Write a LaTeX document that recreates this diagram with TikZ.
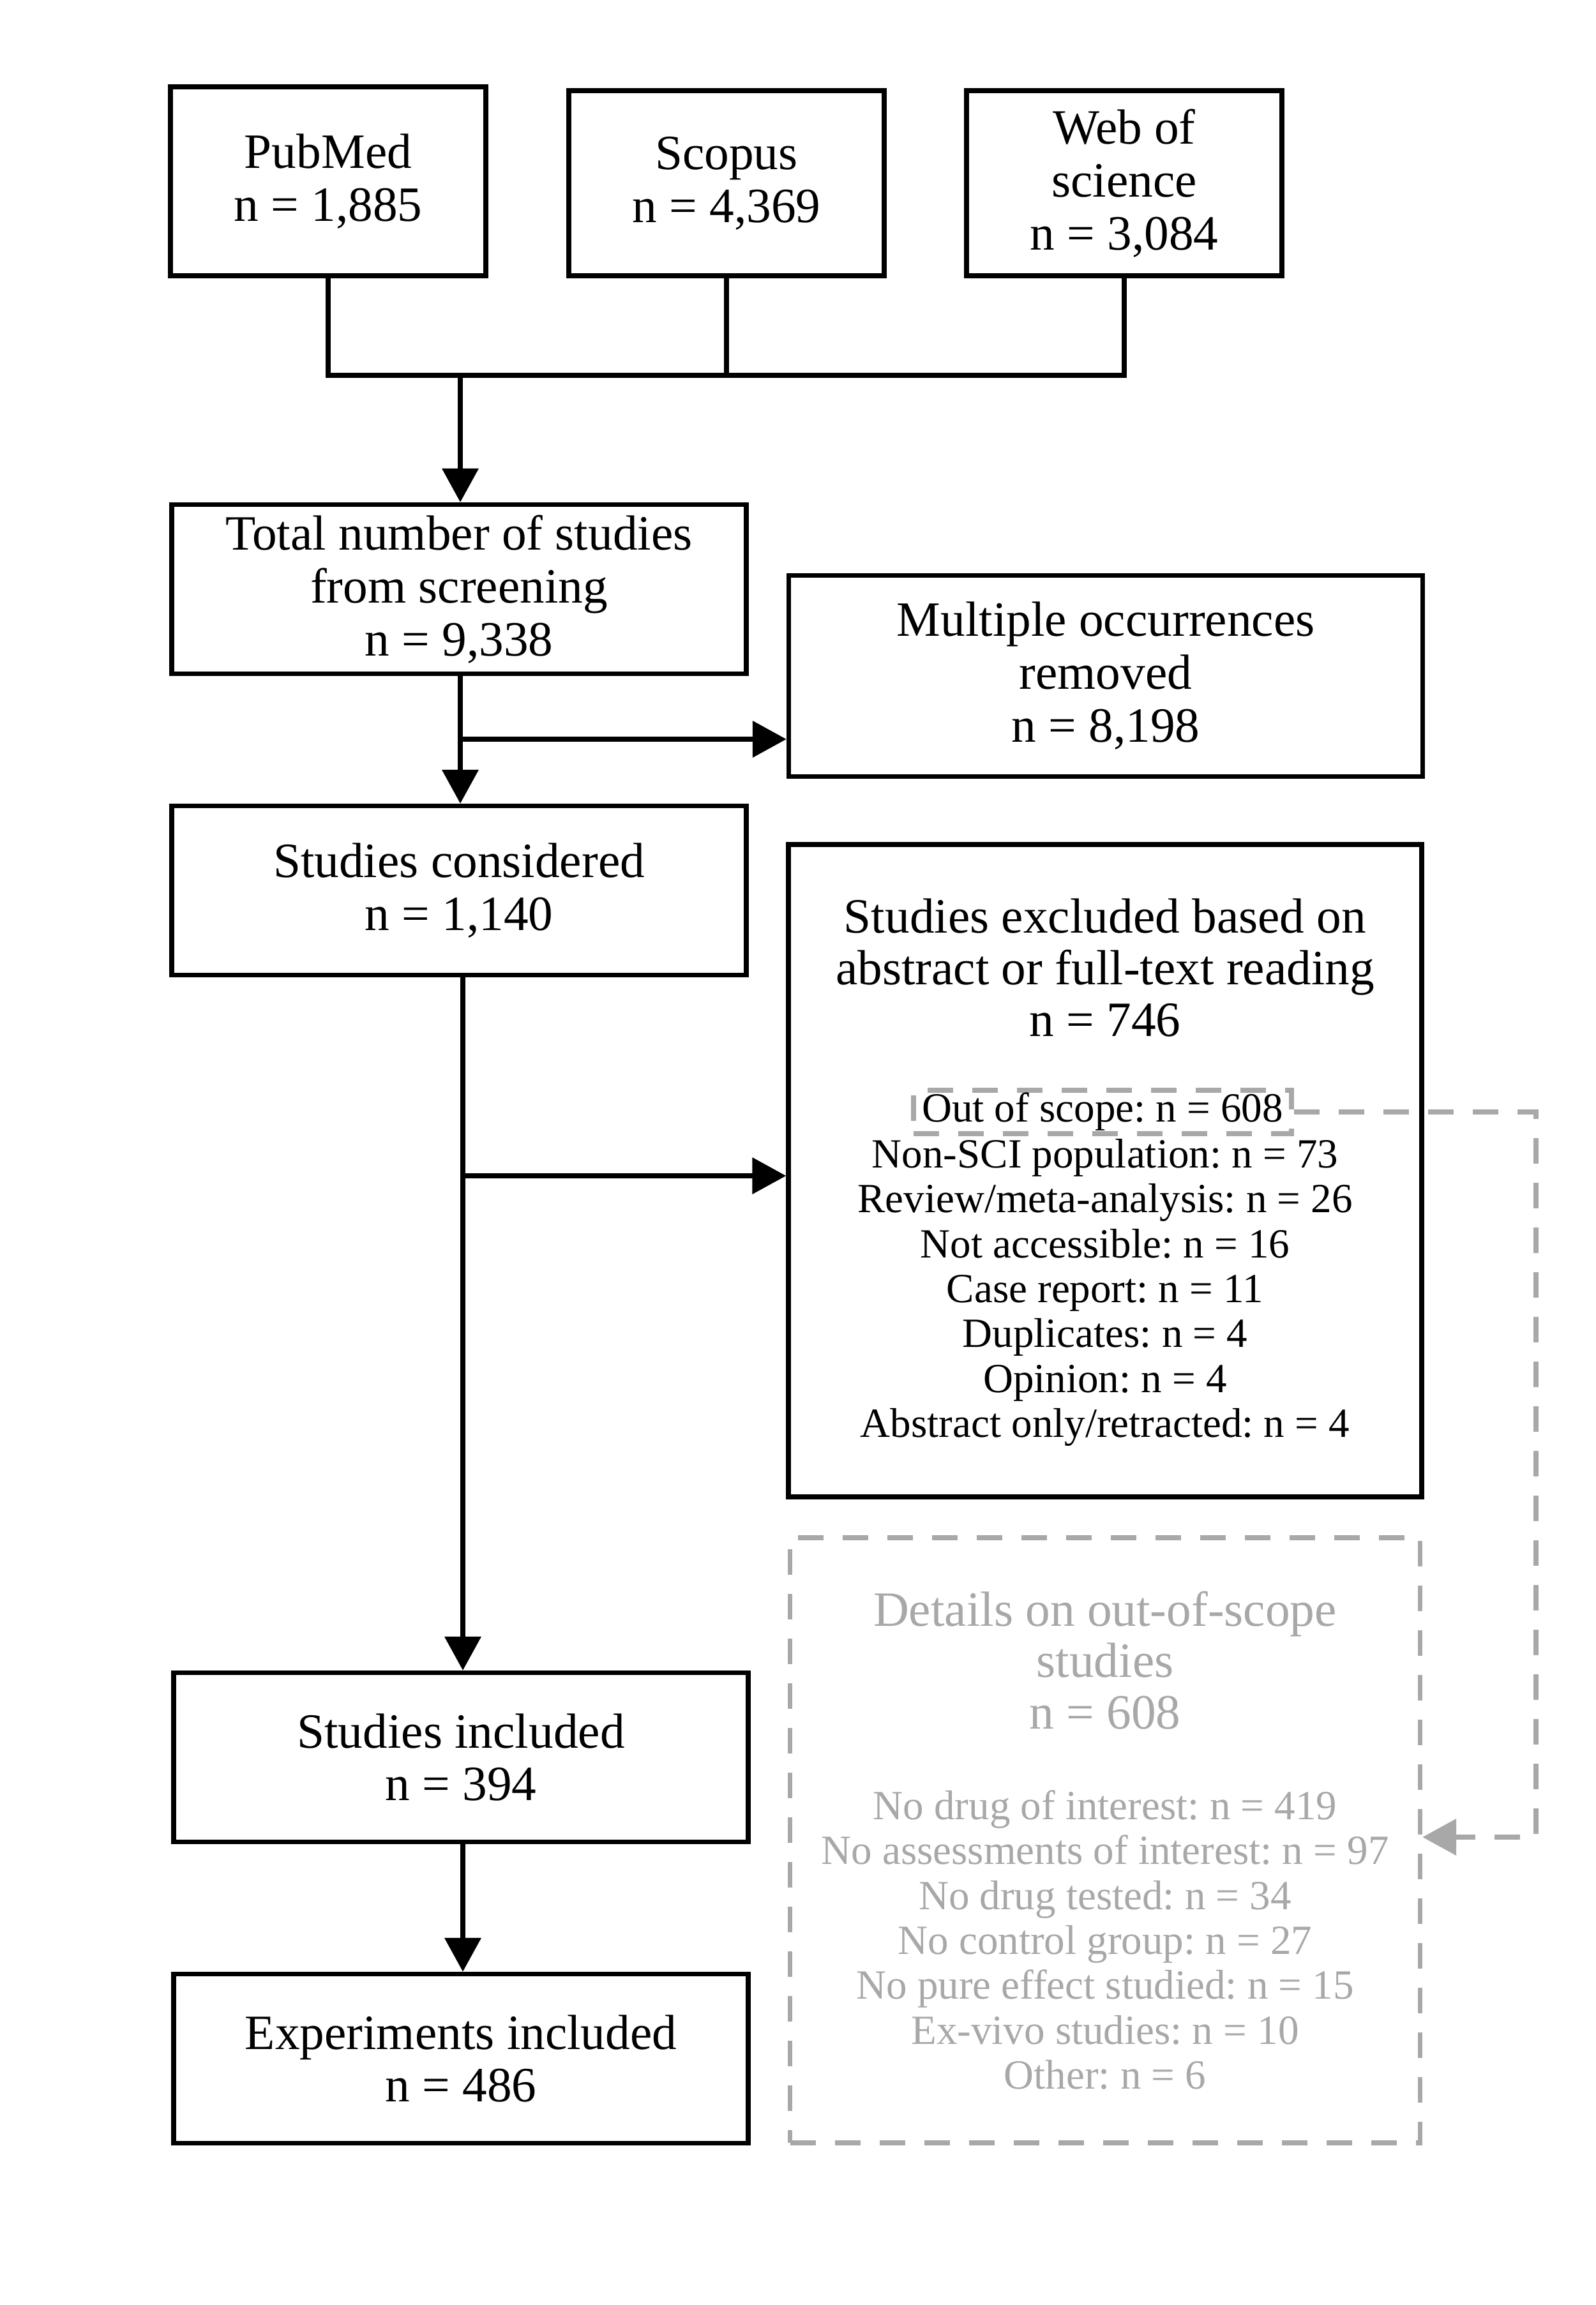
\documentclass[tikz,border=0pt]{standalone}
\usepackage{fontspec}
\setmainfont{Liberation Serif}
\usepackage{xcolor}
\usepackage{tikz}
\usetikzlibrary{arrows.meta, positioning, calc}
\frenchspacing
\definecolor{framegray}{RGB}{168, 168, 168}
\tikzstyle{box} = [draw, line width=2.1pt, align=center, inner sep=0pt, font=\fontsize{22}{23.6}\selectfont]
\tikzstyle{mainbox} = [box, minimum width=9.0cm, minimum height=2.65cm]
\tikzstyle{srcbox} = [box, minimum width=4.94cm, minimum height=2.9cm]
\tikzstyle{reason} = [align=center, inner sep=0pt, font=\fontsize{18.5}{20}\selectfont]
\tikzstyle{title} = [align=center, inner sep=0pt, font=\fontsize{22}{23}\selectfont]
\tikzstyle{link} = [draw, line width=2.1pt]
\tikzstyle{line} = [draw, -{Triangle[length=5.3mm, width=5.6mm]}, line width=2.1pt]
\tikzstyle{dashline} = [draw, -{Triangle[length=5.3mm, width=5.6mm]}, line width=2.1pt, framegray, dash pattern=on 4mm off 3mm]

\begin{document}
\begin{tikzpicture}
    \useasboundingbox (0,0) rectangle (25,-36.11);

    % sources
    \node (pubmed) [srcbox, minimum height=2.96cm] at (5.14,-2.84) {PubMed\\n = 1,885};
    \node (scopus) [srcbox] at (11.38,-2.87) {Scopus\\n = 4,369};
    \node (wos) [srcbox] at (17.61,-2.87) {Web of\\science\\n = 3,084};

    % main column
    \node (total) [mainbox] at (7.19,-9.23) {Total number of studies\\from screening\\n = 9,338};
    \node (considered) [mainbox] at (7.19,-13.95) {Studies considered\\n = 1,140};
    \node (included) [mainbox] at (7.22,-27.53) {Studies included\\n = 394};
    \node (experiments) [mainbox] at (7.22,-32.25) {Experiments included\\n = 486};

    % right column
    \node (dup) [box, minimum width=9.93cm, minimum height=3.15cm] at (17.32,-10.59) {Multiple occurrences\\removed\\n = 8,198};
    \node (excl) [box, minimum width=9.92cm, minimum height=10.22cm] at (17.31,-18.34) {};
    \node (excltitle) [title] at (17.31,-15.16) {Studies excluded based on\\abstract or full-text reading\\n = 746};
    \node (oos) [reason, draw=framegray, line width=2.1pt, dash pattern=on 4mm off 3mm, inner xsep=0.13cm, minimum height=0.68cm] at (17.27,-17.42) {Out of scope: n = 608};
    \node (excllist) [reason] at (17.31,-20.25) {Non-SCI population: n = 73\\Review/meta-analysis: n = 26\\Not accessible: n = 16\\Case report: n = 11\\Duplicates: n = 4\\Opinion: n = 4\\Abstract only/retracted: n = 4};

    \node (details) [box, draw=framegray, dash pattern=on 4mm off 3mm, minimum width=9.87cm, minimum height=9.48cm] at (17.31,-28.83) {};
    \node (detailstitle) [title, text=framegray] at (17.31,-26.01) {Details on out-of-scope\\studies\\n = 608};
    \node (detailslist) [reason, text=framegray] at (17.31,-30.39) {No drug of interest: n = 419\\No assessments of interest: n = 97\\No drug tested: n = 34\\No control group: n = 27\\No pure effect studied: n = 15\\Ex-vivo studies: n = 10\\Other: n = 6};

    % connectors
    \coordinate (join) at (7.21,-5.88);
    \draw [link] (pubmed.south) -- (pubmed.south |- join) -- (wos.south |- join) -- (wos.south);
    \draw [link] (scopus.south) -- (scopus.south |- join);
    \draw [line] (join) -- (join |- total.north);

    \coordinate (split1) at (7.21,-11.58);
    \draw [line] (total.south -| split1) -- (split1 |- considered.north);
    \draw [line] (split1) -- (split1 -| dup.west);

    \coordinate (split2) at (7.25,-18.42);
    \draw [line] (considered.south -| split2) -- (split2 |- included.north);
    \draw [line] (split2) -- (split2 -| excl.west);

    \draw [line] (included.south -| split2) -- (split2 |- experiments.north);

    \coordinate (turn) at (24.06,-28.78);
    \draw [dashline] (oos.east) -| (turn) -- (turn -| details.east);
\end{tikzpicture}
\end{document}
